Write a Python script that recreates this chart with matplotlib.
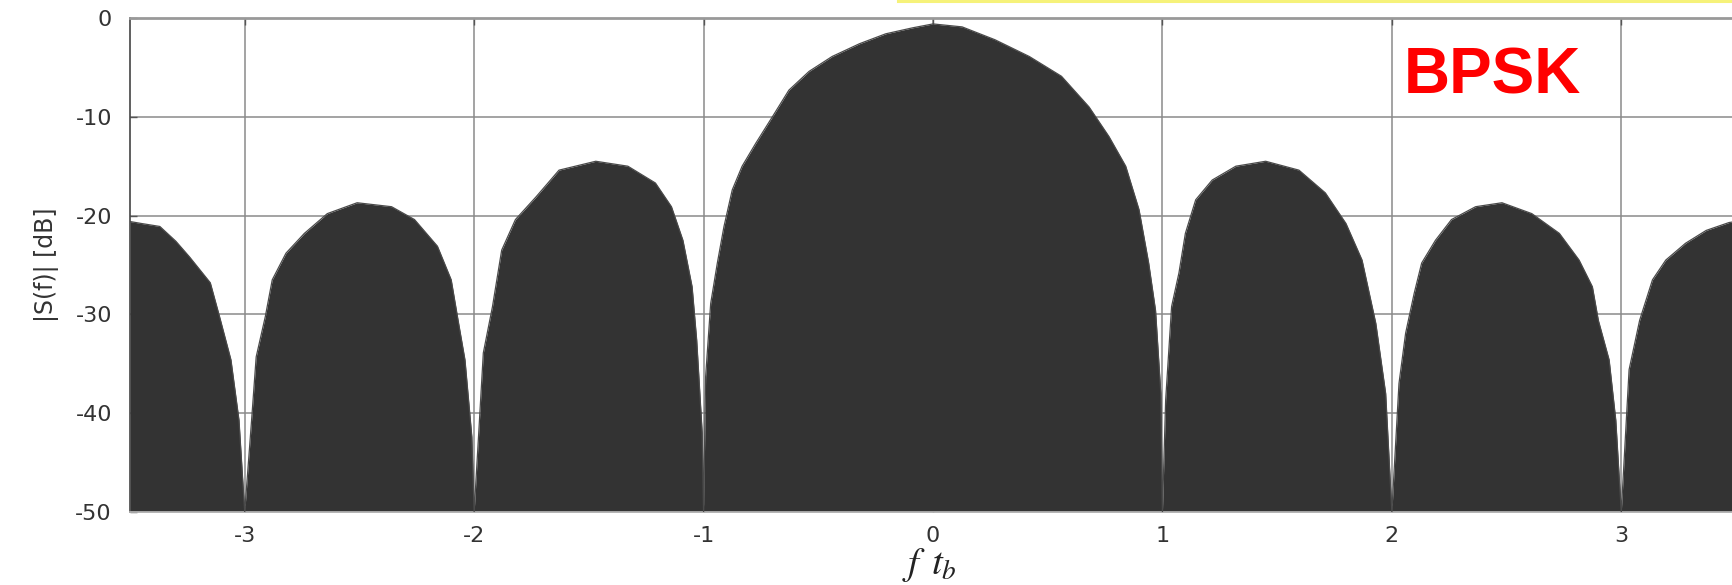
import matplotlib
matplotlib.use("Agg")
import matplotlib.pyplot as plt
from matplotlib.lines import Line2D

# Spectrum envelope (f*t_b, |S(f)| in dB)
freq = [-3.50, -3.45, -3.37, -3.30, -3.24, -3.15, -3.11, -3.06, -3.025, -3.00,
        -2.97, -2.95, -2.91, -2.88, -2.82, -2.74, -2.64, -2.51, -2.36, -2.26,
        -2.16, -2.10, -2.07, -2.04, -2.01, -2.00,
        -1.98, -1.96, -1.92, -1.88, -1.82, -1.73, -1.63, -1.47, -1.33, -1.21,
        -1.14, -1.09, -1.05, -1.03, -1.006, -1.00,
        -0.991, -0.969, -0.94, -0.911, -0.875, -0.832, -0.773, -0.70, -0.628,
        -0.54, -0.44, -0.32, -0.206, -0.09, 0.00, 0.127, 0.27, 0.42, 0.56,
        0.68, 0.767, 0.84, 0.898, 0.94, 0.97, 0.993, 1.00,
        1.014, 1.04, 1.072, 1.10, 1.145, 1.217, 1.32, 1.45, 1.595, 1.71,
        1.80, 1.87, 1.93, 1.973, 2.00,
        2.031, 2.06, 2.097, 2.13, 2.19, 2.26, 2.365, 2.48, 2.61, 2.73,
        2.816, 2.874, 2.90, 2.947, 2.976, 3.00,
        3.034, 3.08, 3.136, 3.194, 3.28, 3.37, 3.47, 3.50]
level_db = [-20.6, -20.8, -21.1, -22.6, -24.2, -26.8, -30.2, -34.6, -40.7, -50.0,
            -40.7, -34.3, -30.2, -26.5, -23.8, -21.8, -19.8, -18.7, -19.1, -20.4,
            -23.1, -26.5, -30.6, -34.6, -42.4, -50.0,
            -42.0, -33.9, -29.2, -23.5, -20.4, -18.1, -15.4, -14.5, -15.0, -16.7,
            -19.1, -22.5, -27.2, -32.6, -42.0, -50.0,
            -36.3, -28.9, -24.8, -21.1, -17.4, -15.0, -12.7, -10.0, -7.3,
            -5.4, -3.9, -2.6, -1.6, -1.0, -0.6, -0.9, -2.2, -3.9, -5.9,
            -9.0, -12.0, -15.0, -19.4, -24.8, -29.6, -38.0, -50.0,
            -38.7, -29.2, -25.8, -21.8, -18.4, -16.4, -15.0, -14.5, -15.4, -17.7,
            -20.8, -24.5, -30.9, -38.0, -50.0,
            -37.0, -31.9, -27.9, -24.8, -22.5, -20.4, -19.1, -18.7, -19.8, -21.8,
            -24.5, -27.2, -30.6, -34.6, -40.7, -50.0,
            -35.6, -30.6, -26.5, -24.5, -22.8, -21.5, -20.7, -20.6]

x_ticks = [-3, -2, -1, 0, 1, 2, 3]
y_ticks = [0, -10, -20, -30, -40, -50]

W, H = 1732, 585
fig = plt.figure(figsize=(W / 100, H / 100), dpi=100)
ax = fig.add_axes([130 / W, 1 - 512 / H, 1606 / W, (512 - 18) / H])

ax.set_axisbelow(True)
ax.grid(True, color="#8a8a8a", linewidth=1.1)
ax.fill_between(freq, -50, level_db, color="#333333", linewidth=0, zorder=2)
ax.plot(freq, level_db, color="#4a4a4a", linewidth=0.9, zorder=3)

ax.set_xlim(-3.5, 3.5)
ax.set_ylim(-50, 0)
ax.set_xticks(x_ticks)
ax.set_yticks(y_ticks)
ax.set_xticklabels([str(v) for v in x_ticks])
ax.set_yticklabels([str(v) for v in y_ticks])
ax.tick_params(axis="both", direction="in", length=5, color="#555555",
               labelsize=16, labelcolor="#333333", width=1)
ax.tick_params(axis="x", pad=10)
ax.tick_params(axis="y", pad=13)
ax.tick_params(top=True, right=False)

ax.spines["right"].set_visible(False)
ax.spines["left"].set_color("#444444")
ax.spines["left"].set_linewidth(1.2)
ax.spines["top"].set_color("#999999")
ax.spines["top"].set_linewidth(2)
ax.spines["bottom"].set_color("#bbbbbb")
ax.spines["bottom"].set_linewidth(1.2)

ax.set_ylabel("|S(f)| [dB]", fontsize=17, color="#333333", labelpad=12)
fig.text(929 / W, 1 - 565 / H, r"$f\;\,t_b$", fontsize=28, ha="center",
         va="center", color="#222222", math_fontfamily="stix")

fig.text(1404 / W, 1 - 94 / H, "BPSK", fontsize=46, fontweight="bold",
         color="#ff0000", family="Liberation Sans", ha="left", va="baseline")

fig.add_artist(Line2D([898 / W, 1.0], [1 - 1.2 / H, 1 - 1.2 / H],
                      transform=fig.transFigure, color="#f6f27a", linewidth=2.2))

fig.savefig("out.png", dpi=100)
